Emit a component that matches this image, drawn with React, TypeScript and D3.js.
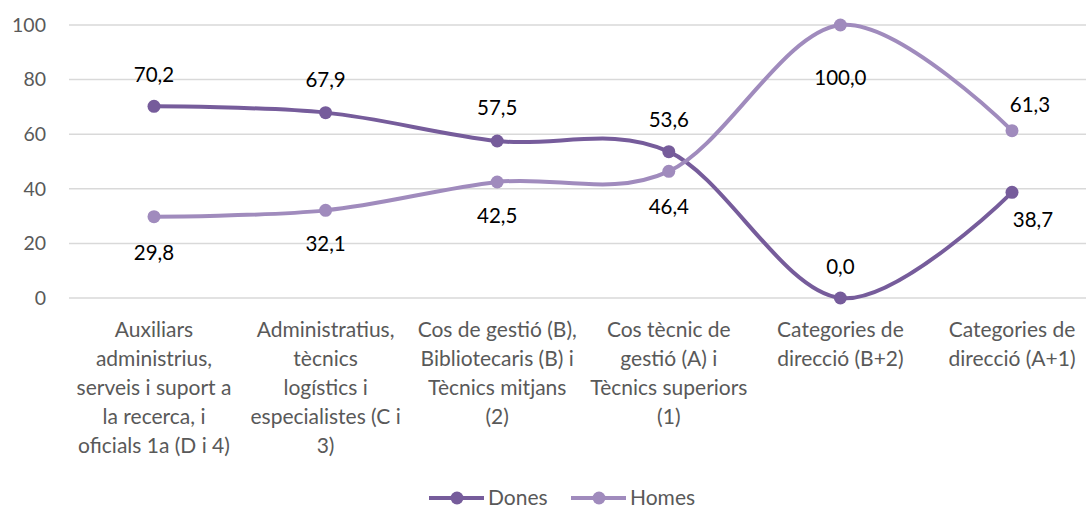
import React from "react";
import * as d3 from "d3";

const categories: string[][] = [
  ["Auxiliars", "administrius,", "serveis i suport a", "la recerca, i", "oficials 1a (D i 4)"],
  ["Administratius,", "tècnics", "logístics i", "especialistes (C i", "3)"],
  ["Cos de gestió (B),", "Bibliotecaris (B) i", "Tècnics mitjans", "(2)"],
  ["Cos tècnic de", "gestió (A) i", "Tècnics superiors", "(1)"],
  ["Categories de", "direcció (B+2)"],
  ["Categories de", "direcció (A+1)"],
];
const dones = [70.2, 67.9, 57.5, 53.6, 0.0, 38.7];
const homes = [29.8, 32.1, 42.5, 46.4, 100.0, 61.3];
const yTicks = [0, 20, 40, 60, 80, 100];
// label offsets in px (positive = above point)
const donesOffset = [32, 33, 33, 32, 31, -27];
const homesOffset = [-36, -33, -34, -35, -53, 26];
const donesShift = [0, 0, 0, 0, 0, 21];
const homesShift = [0, 0, 0, 0, 0, 18];

const W = 1086;
const H = 509;
const FONT = "Lato, 'Open Sans', sans-serif";

export default function App() {
  const x = d3
    .scalePoint<number>()
    .domain(d3.range(categories.length))
    .range([154, 1012]);
  const y = d3.scaleLinear().domain([0, 100]).range([298, 25]);
  const line = d3
    .line<number>()
    .x((_, i) => x(i) as number)
    .y((d) => y(d))
    .curve(d3.curveCardinal.tension(0));

  const series = [
    { name: "Dones", values: dones, color: "#765c9b", off: donesOffset, shift: donesShift },
    { name: "Homes", values: homes, color: "#a08bbd", off: homesOffset, shift: homesShift },
  ];
  const fmt = (v: number) => v.toFixed(1).replace(".", ",");

  return (
    <svg
      width={W}
      height={H}
      style={{ position: "absolute", left: 0, top: 0, background: "#fff" }}
      fontFamily={FONT}
    >
      {yTicks.map((t) => (
        <g key={t}>
          <line x1={69} x2={W} y1={y(t)} y2={y(t)} stroke="#d9d9d9" strokeWidth={1.5} />
          <text x={46} y={y(t)} dy="0.35em" textAnchor="end" fontSize={19.5} fill="#595959">
            {t}
          </text>
        </g>
      ))}
      {categories.map((lines, i) => (
        <text key={i} x={x(i)} textAnchor="middle" fontSize={21} fill="#595959">
          {lines.map((l, j) => (
            <tspan key={j} x={x(i)} y={337 + j * 29}>
              {l}
            </tspan>
          ))}
        </text>
      ))}
      {series.map((s) => (
        <g key={s.name}>
          <path d={line(s.values) || ""} fill="none" stroke={s.color} strokeWidth={4} />
          {s.values.map((v, i) => (
            <circle key={i} cx={x(i)} cy={y(v)} r={6.5} fill={s.color} />
          ))}
        </g>
      ))}
      {series.map((s) =>
        s.values.map((v, i) => (
          <text
            key={s.name + i}
            x={(x(i) as number) + s.shift[i]}
            y={y(v) - s.off[i]}
            dy="0.35em"
            textAnchor="middle"
            fontSize={20.5}
            fill="#000"
          >
            {fmt(v)}
          </text>
        ))
      )}
      {series.map((s, k) => {
        const lx = 429 + k * 142;
        return (
          <g key={s.name}>
            <line x1={lx} x2={lx + 55} y1={498} y2={498} stroke={s.color} strokeWidth={4} />
            <circle cx={lx + 28} cy={498} r={6.5} fill={s.color} />
            <text x={lx + 59} y={498} dy="0.35em" fontSize={21} fill="#595959">
              {s.name}
            </text>
          </g>
        );
      })}
    </svg>
  );
}
